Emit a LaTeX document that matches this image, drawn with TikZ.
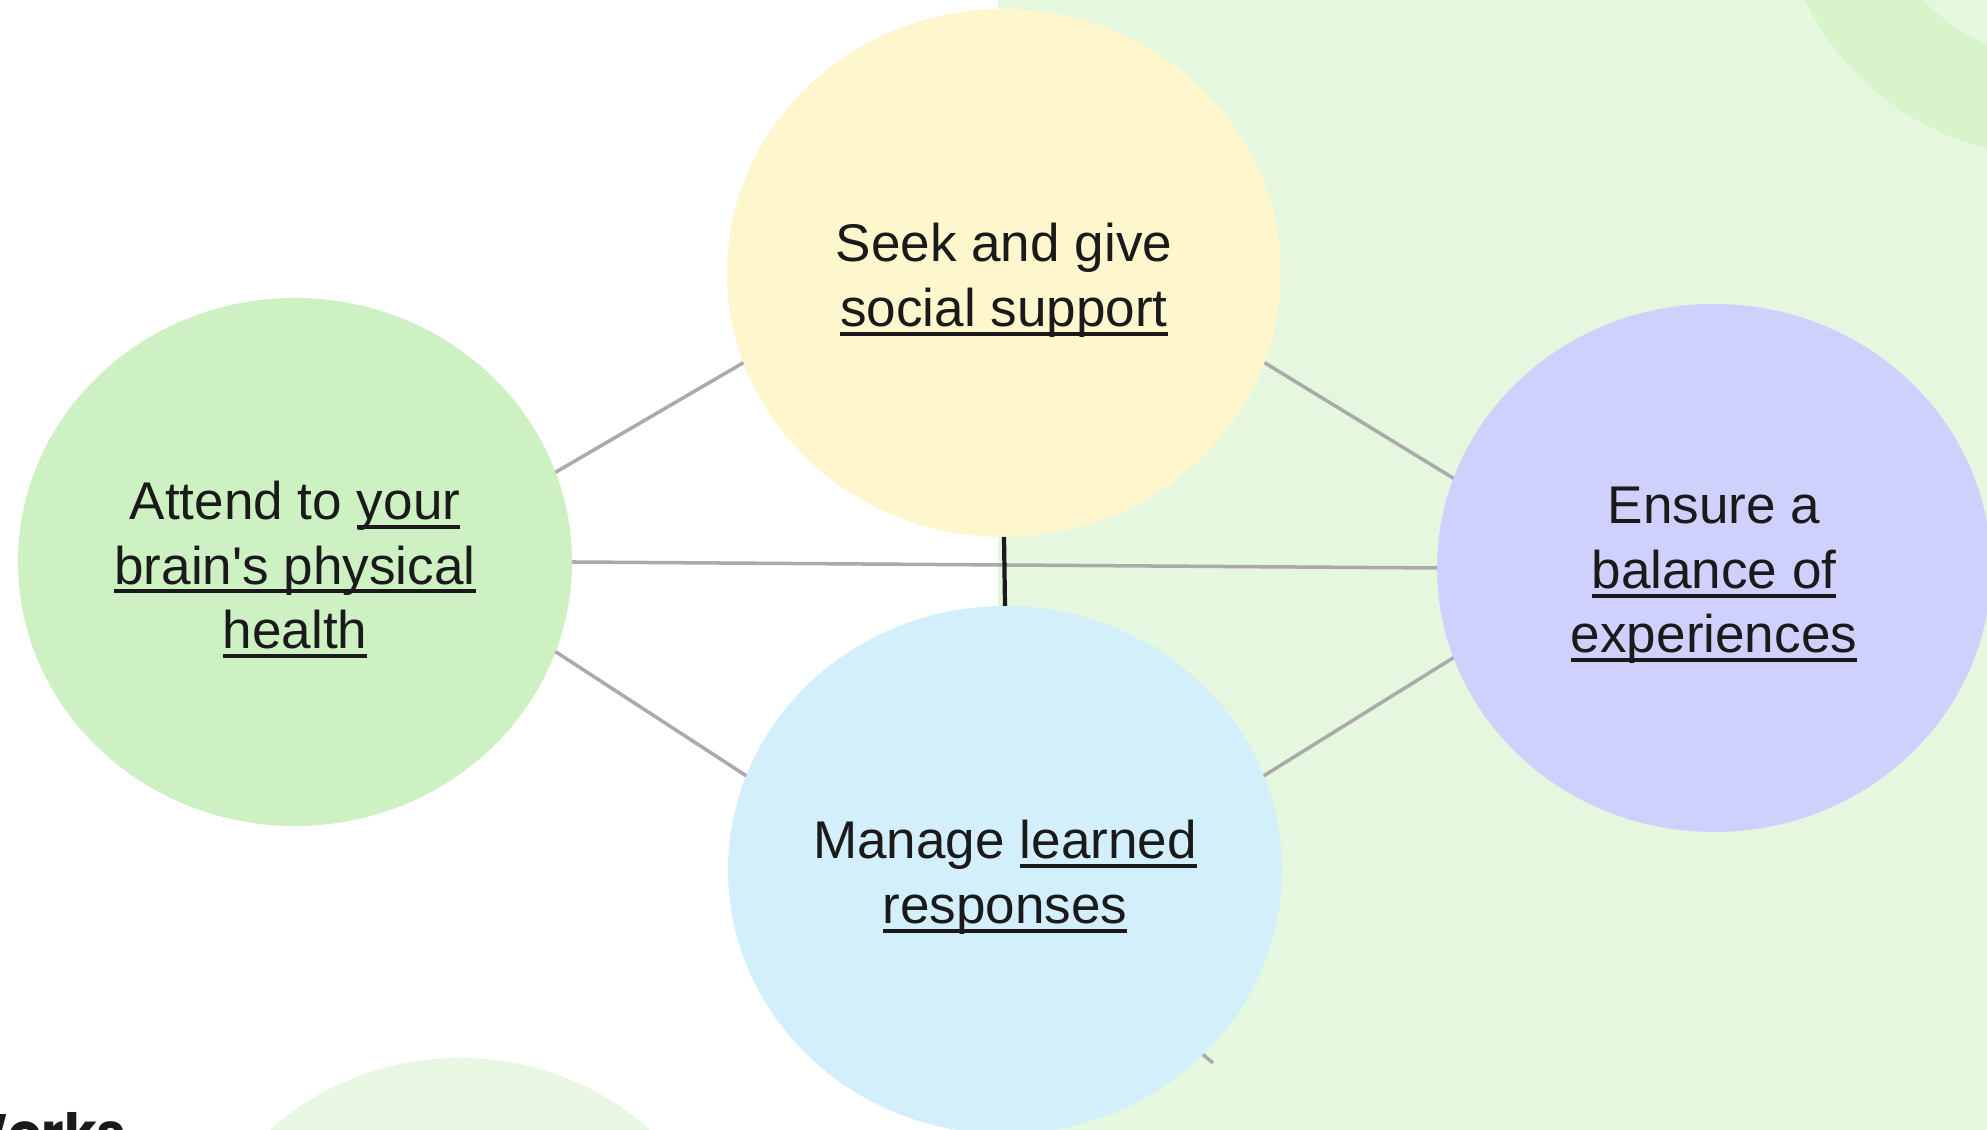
\documentclass[tikz,border=0pt]{standalone}
\usepackage{fontspec}
\usetikzlibrary{shapes.geometric}

\setmainfont{Liberation Sans}
\newfontfamily\bubblefont{Liberation Sans}
\newfontfamily\worksfont{Poppins}

\definecolor{ink}{HTML}{1A1A1A}
\definecolor{linkgrey}{HTML}{AAAAAA}
\definecolor{pagegreen}{HTML}{E5F7DF}
\definecolor{ringgreen}{HTML}{D7F4CB}
\definecolor{palegreen}{HTML}{E8F7E2}
\definecolor{healthgreen}{HTML}{CDF1C2}
\definecolor{socialyellow}{HTML}{FEF6CD}
\definecolor{balancepurple}{HTML}{D0D0FD}
\definecolor{learnedblue}{HTML}{D3EFFB}

% underlined link text, rule sits just under the baseline
\newlength{\lnkwd}
\newcommand{\lnk}[1]{\settowidth{\lnkwd}{#1}\rlap{\rule[-2.65pt]{\lnkwd}{1.15pt}}#1}

\begin{document}
\begin{tikzpicture}[
	bubble/.style={ellipse, minimum width=5.54cm, minimum height=5.28cm, inner sep=0pt, outer sep=0pt},
	bubbletext/.style={align=center, text=ink, inner sep=0pt, yshift=-0.075cm,
		font=\bubblefont\fontsize{15.1}{18.4}\selectfont},
	link/.style={draw=linkgrey, line width=1pt}]
	\useasboundingbox (0,0) rectangle (19.87,11.30);
	\clip (0,0) rectangle (19.87,11.30);
	
	\fill [white] (0,0) rectangle (19.87,11.30);
	\fill [pagegreen] (9.98,0) rectangle (19.87,11.30);
	\fill [ringgreen, even odd rule] (20.56,12.53) circle (2.8) circle (1.81);
	\fill [palegreen] (4.60,-1.92) ellipse (2.77 and 2.64);
	\node [anchor=base east, text=ink, inner sep=0pt, font=\worksfont\bfseries\fontsize{15}{16}\selectfont] (W) at (1.27,-0.22) {Works};
	
	\node [bubble, fill=healthgreen, label={[bubbletext]center:Attend to \lnk{your}\\ \lnk{brain's physical}\\ \lnk{health}}] (H) at (2.95,5.68) {};
	\node [bubble, fill=socialyellow, label={[bubbletext]center:Seek and give\\ \lnk{social support}}] (S) at (10.04,8.57) {};
	\node [bubble, fill=balancepurple, label={[bubbletext]center:Ensure a\\ \lnk{balance of}\\ \lnk{experiences}}] (E) at (17.14,5.62) {};
	\node [bubble, fill=learnedblue, label={[bubbletext]center:Manage \lnk{learned}\\ \lnk{responses}}] (R) at (10.05,2.60) {};
	\coordinate (T) at (12.13,0.67);
	
	\draw [link] (H.19) -- (S.199);
	\draw [link] (H.-19) -- (R.160);
	\draw [link] (S.-19) -- (E.161);
	\draw [link] (R.20) -- (E.199);
	\draw [link] (H.east) -- (E.west);
	\draw [link] (R.-43.5) -- (T);
	\draw [ink, line width=1.2pt] (S.south) -- (R.north);
	
\end{tikzpicture}
\end{document}
